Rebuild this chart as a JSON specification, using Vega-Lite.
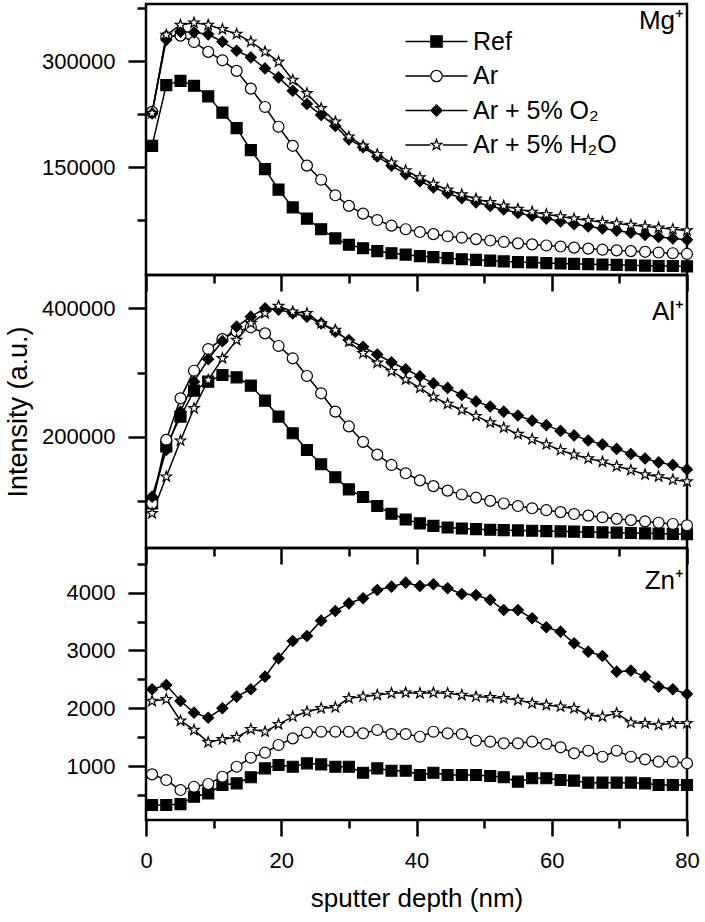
{
  "$schema": "https://vega.github.io/schema/vega-lite/v6.json",
  "background": "white",
  "padding": {"left": 3, "top": 2, "right": 10, "bottom": 5},
  "bounds": "flush",
  "spacing": 0,
  "config": {
    "font": "Liberation Sans",
    "view": {"stroke": "black", "strokeWidth": 2.5},
    "axis": {"domain": false, "grid": false, "tickColor": "black", "tickWidth": 2.5, "labelColor": "black", "titleColor": "black", "labelFontSize": 22, "titleFontSize": 26, "titleFontWeight": "normal", "labelFlush": false},
    "legend": {"padding": 0},
    "title": {"fontSize": 26, "fontWeight": "normal", "color": "black", "anchor": "end", "frame": "group", "baseline": "alphabetic", "dx": -3}
  },
  "resolve": {
    "scale": {"shape": "independent", "fill": "independent", "stroke": "independent", "strokeDash": "independent"},
    "legend": {"shape": "independent", "fill": "independent", "stroke": "independent", "strokeDash": "independent"}
  },
  "datasets": {
    "Mg": [
      {"series":"Ref","depth":0.9,"intensity":180000},{"series":"Ref","depth":3.0,"intensity":266000},{"series":"Ref","depth":5.1,"intensity":272000},{"series":"Ref","depth":7.1,"intensity":265000},{"series":"Ref","depth":9.2,"intensity":250000},{"series":"Ref","depth":11.3,"intensity":227000},{"series":"Ref","depth":13.4,"intensity":205000},{"series":"Ref","depth":15.5,"intensity":174000},{"series":"Ref","depth":17.6,"intensity":147000},{"series":"Ref","depth":19.6,"intensity":118000},{"series":"Ref","depth":21.7,"intensity":93000},{"series":"Ref","depth":23.8,"intensity":77000},{"series":"Ref","depth":25.9,"intensity":62000},{"series":"Ref","depth":28.0,"intensity":49000},{"series":"Ref","depth":30.0,"intensity":40000},{"series":"Ref","depth":32.1,"intensity":35000},{"series":"Ref","depth":34.2,"intensity":31000},{"series":"Ref","depth":36.3,"intensity":28000},{"series":"Ref","depth":38.4,"intensity":26000},{"series":"Ref","depth":40.5,"intensity":24000},{"series":"Ref","depth":42.5,"intensity":22500},{"series":"Ref","depth":44.6,"intensity":21000},{"series":"Ref","depth":46.7,"intensity":19500},{"series":"Ref","depth":48.8,"intensity":18500},{"series":"Ref","depth":50.9,"intensity":17500},{"series":"Ref","depth":52.9,"intensity":16500},{"series":"Ref","depth":55.0,"intensity":15500},{"series":"Ref","depth":57.1,"intensity":15000},{"series":"Ref","depth":59.2,"intensity":14000},{"series":"Ref","depth":61.3,"intensity":13500},{"series":"Ref","depth":63.3,"intensity":13000},{"series":"Ref","depth":65.4,"intensity":12500},{"series":"Ref","depth":67.5,"intensity":12000},{"series":"Ref","depth":69.6,"intensity":11500},{"series":"Ref","depth":71.7,"intensity":11000},{"series":"Ref","depth":73.8,"intensity":10500},{"series":"Ref","depth":75.8,"intensity":10000},{"series":"Ref","depth":77.9,"intensity":10000},{"series":"Ref","depth":80.0,"intensity":9500},
      {"series":"Ar","depth":0.9,"intensity":228000},{"series":"Ar","depth":3.0,"intensity":334000},{"series":"Ar","depth":5.1,"intensity":336000},{"series":"Ar","depth":7.1,"intensity":327000},{"series":"Ar","depth":9.2,"intensity":313000},{"series":"Ar","depth":11.3,"intensity":301000},{"series":"Ar","depth":13.4,"intensity":286000},{"series":"Ar","depth":15.5,"intensity":261000},{"series":"Ar","depth":17.6,"intensity":235000},{"series":"Ar","depth":19.6,"intensity":207000},{"series":"Ar","depth":21.7,"intensity":180000},{"series":"Ar","depth":23.8,"intensity":152000},{"series":"Ar","depth":25.9,"intensity":132000},{"series":"Ar","depth":28.0,"intensity":110000},{"series":"Ar","depth":30.0,"intensity":95000},{"series":"Ar","depth":32.1,"intensity":84000},{"series":"Ar","depth":34.2,"intensity":75000},{"series":"Ar","depth":36.3,"intensity":67000},{"series":"Ar","depth":38.4,"intensity":62000},{"series":"Ar","depth":40.5,"intensity":58000},{"series":"Ar","depth":42.5,"intensity":55000},{"series":"Ar","depth":44.6,"intensity":52000},{"series":"Ar","depth":46.7,"intensity":50000},{"series":"Ar","depth":48.8,"intensity":48000},{"series":"Ar","depth":50.9,"intensity":46000},{"series":"Ar","depth":52.9,"intensity":44000},{"series":"Ar","depth":55.0,"intensity":42000},{"series":"Ar","depth":57.1,"intensity":40500},{"series":"Ar","depth":59.2,"intensity":39000},{"series":"Ar","depth":61.3,"intensity":37500},{"series":"Ar","depth":63.3,"intensity":36000},{"series":"Ar","depth":65.4,"intensity":34500},{"series":"Ar","depth":67.5,"intensity":33000},{"series":"Ar","depth":69.6,"intensity":32000},{"series":"Ar","depth":71.7,"intensity":31000},{"series":"Ar","depth":73.8,"intensity":30000},{"series":"Ar","depth":75.8,"intensity":29000},{"series":"Ar","depth":77.9,"intensity":28000},{"series":"Ar","depth":80.0,"intensity":27000},
      {"series":"Ar + 5% O₂","depth":0.9,"intensity":226000},{"series":"Ar + 5% O₂","depth":3.0,"intensity":330000},{"series":"Ar + 5% O₂","depth":5.1,"intensity":341500},{"series":"Ar + 5% O₂","depth":7.1,"intensity":340600},{"series":"Ar + 5% O₂","depth":9.2,"intensity":337800},{"series":"Ar + 5% O₂","depth":11.3,"intensity":327300},{"series":"Ar + 5% O₂","depth":13.4,"intensity":314600},{"series":"Ar + 5% O₂","depth":15.5,"intensity":305200},{"series":"Ar + 5% O₂","depth":17.6,"intensity":289600},{"series":"Ar + 5% O₂","depth":19.6,"intensity":276900},{"series":"Ar + 5% O₂","depth":21.7,"intensity":258000},{"series":"Ar + 5% O₂","depth":23.8,"intensity":239200},{"series":"Ar + 5% O₂","depth":25.9,"intensity":223600},{"series":"Ar + 5% O₂","depth":28.0,"intensity":208000},{"series":"Ar + 5% O₂","depth":30.0,"intensity":189200},{"series":"Ar + 5% O₂","depth":32.1,"intensity":178000},{"series":"Ar + 5% O₂","depth":34.2,"intensity":165000},{"series":"Ar + 5% O₂","depth":36.3,"intensity":152000},{"series":"Ar + 5% O₂","depth":38.4,"intensity":140000},{"series":"Ar + 5% O₂","depth":40.5,"intensity":130000},{"series":"Ar + 5% O₂","depth":42.5,"intensity":121000},{"series":"Ar + 5% O₂","depth":44.6,"intensity":113000},{"series":"Ar + 5% O₂","depth":46.7,"intensity":106000},{"series":"Ar + 5% O₂","depth":48.8,"intensity":100000},{"series":"Ar + 5% O₂","depth":50.9,"intensity":95000},{"series":"Ar + 5% O₂","depth":52.9,"intensity":90000},{"series":"Ar + 5% O₂","depth":55.0,"intensity":85000},{"series":"Ar + 5% O₂","depth":57.1,"intensity":81000},{"series":"Ar + 5% O₂","depth":59.2,"intensity":77000},{"series":"Ar + 5% O₂","depth":61.3,"intensity":73000},{"series":"Ar + 5% O₂","depth":63.3,"intensity":69000},{"series":"Ar + 5% O₂","depth":65.4,"intensity":66000},{"series":"Ar + 5% O₂","depth":67.5,"intensity":63000},{"series":"Ar + 5% O₂","depth":69.6,"intensity":60000},{"series":"Ar + 5% O₂","depth":71.7,"intensity":57000},{"series":"Ar + 5% O₂","depth":73.8,"intensity":54000},{"series":"Ar + 5% O₂","depth":75.8,"intensity":51000},{"series":"Ar + 5% O₂","depth":77.9,"intensity":49000},{"series":"Ar + 5% O₂","depth":80.0,"intensity":47000},
      {"series":"Ar + 5% H₂O","depth":0.9,"intensity":226000},{"series":"Ar + 5% H₂O","depth":3.0,"intensity":336800},{"series":"Ar + 5% H₂O","depth":5.1,"intensity":351000},{"series":"Ar + 5% H₂O","depth":7.1,"intensity":354200},{"series":"Ar + 5% H₂O","depth":9.2,"intensity":351000},{"series":"Ar + 5% H₂O","depth":11.3,"intensity":344800},{"series":"Ar + 5% H₂O","depth":13.4,"intensity":338200},{"series":"Ar + 5% H₂O","depth":15.5,"intensity":327300},{"series":"Ar + 5% H₂O","depth":17.6,"intensity":313200},{"series":"Ar + 5% H₂O","depth":19.6,"intensity":299000},{"series":"Ar + 5% H₂O","depth":21.7,"intensity":273100},{"series":"Ar + 5% H₂O","depth":23.8,"intensity":254300},{"series":"Ar + 5% H₂O","depth":25.9,"intensity":233000},{"series":"Ar + 5% H₂O","depth":28.0,"intensity":214100},{"series":"Ar + 5% H₂O","depth":30.0,"intensity":192900},{"series":"Ar + 5% H₂O","depth":32.1,"intensity":180000},{"series":"Ar + 5% H₂O","depth":34.2,"intensity":168000},{"series":"Ar + 5% H₂O","depth":36.3,"intensity":156000},{"series":"Ar + 5% H₂O","depth":38.4,"intensity":145000},{"series":"Ar + 5% H₂O","depth":40.5,"intensity":135000},{"series":"Ar + 5% H₂O","depth":42.5,"intensity":126000},{"series":"Ar + 5% H₂O","depth":44.6,"intensity":118000},{"series":"Ar + 5% H₂O","depth":46.7,"intensity":111000},{"series":"Ar + 5% H₂O","depth":48.8,"intensity":105000},{"series":"Ar + 5% H₂O","depth":50.9,"intensity":100000},{"series":"Ar + 5% H₂O","depth":52.9,"intensity":95000},{"series":"Ar + 5% H₂O","depth":55.0,"intensity":90500},{"series":"Ar + 5% H₂O","depth":57.1,"intensity":86500},{"series":"Ar + 5% H₂O","depth":59.2,"intensity":83000},{"series":"Ar + 5% H₂O","depth":61.3,"intensity":80000},{"series":"Ar + 5% H₂O","depth":63.3,"intensity":77000},{"series":"Ar + 5% H₂O","depth":65.4,"intensity":74500},{"series":"Ar + 5% H₂O","depth":67.5,"intensity":72000},{"series":"Ar + 5% H₂O","depth":69.6,"intensity":70000},{"series":"Ar + 5% H₂O","depth":71.7,"intensity":68000},{"series":"Ar + 5% H₂O","depth":73.8,"intensity":66000},{"series":"Ar + 5% H₂O","depth":75.8,"intensity":64000},{"series":"Ar + 5% H₂O","depth":77.9,"intensity":62000},{"series":"Ar + 5% H₂O","depth":80.0,"intensity":60000}
    ],
    "Al": [
      {"series":"Ref","depth":0.9,"intensity":96000},{"series":"Ref","depth":3.0,"intensity":185000},{"series":"Ref","depth":5.1,"intensity":231000},{"series":"Ref","depth":7.1,"intensity":271700},{"series":"Ref","depth":9.2,"intensity":285700},{"series":"Ref","depth":11.3,"intensity":296100},{"series":"Ref","depth":13.4,"intensity":292500},{"series":"Ref","depth":15.5,"intensity":279500},{"series":"Ref","depth":17.6,"intensity":256100},{"series":"Ref","depth":19.6,"intensity":231300},{"series":"Ref","depth":21.7,"intensity":205300},{"series":"Ref","depth":23.8,"intensity":179300},{"series":"Ref","depth":25.9,"intensity":157000},{"series":"Ref","depth":28.0,"intensity":136800},{"series":"Ref","depth":30.0,"intensity":118000},{"series":"Ref","depth":32.1,"intensity":106000},{"series":"Ref","depth":34.2,"intensity":92000},{"series":"Ref","depth":36.3,"intensity":80000},{"series":"Ref","depth":38.4,"intensity":71000},{"series":"Ref","depth":40.5,"intensity":65000},{"series":"Ref","depth":42.5,"intensity":61000},{"series":"Ref","depth":44.6,"intensity":58500},{"series":"Ref","depth":46.7,"intensity":57000},{"series":"Ref","depth":48.8,"intensity":56000},{"series":"Ref","depth":50.9,"intensity":55000},{"series":"Ref","depth":52.9,"intensity":54500},{"series":"Ref","depth":55.0,"intensity":54000},{"series":"Ref","depth":57.1,"intensity":53500},{"series":"Ref","depth":59.2,"intensity":53000},{"series":"Ref","depth":61.3,"intensity":52500},{"series":"Ref","depth":63.3,"intensity":52000},{"series":"Ref","depth":65.4,"intensity":51500},{"series":"Ref","depth":67.5,"intensity":51000},{"series":"Ref","depth":69.6,"intensity":50500},{"series":"Ref","depth":71.7,"intensity":50000},{"series":"Ref","depth":73.8,"intensity":49500},{"series":"Ref","depth":75.8,"intensity":49000},{"series":"Ref","depth":77.9,"intensity":48500},{"series":"Ref","depth":80.0,"intensity":48000},
      {"series":"Ar","depth":0.9,"intensity":96000},{"series":"Ar","depth":3.0,"intensity":195000},{"series":"Ar","depth":5.1,"intensity":259800},{"series":"Ar","depth":7.1,"intensity":302800},{"series":"Ar","depth":9.2,"intensity":336600},{"series":"Ar","depth":11.3,"intensity":352000},{"series":"Ar","depth":13.4,"intensity":364000},{"series":"Ar","depth":15.5,"intensity":370400},{"series":"Ar","depth":17.6,"intensity":361000},{"series":"Ar","depth":19.6,"intensity":341300},{"series":"Ar","depth":21.7,"intensity":322100},{"series":"Ar","depth":23.8,"intensity":294600},{"series":"Ar","depth":25.9,"intensity":267600},{"series":"Ar","depth":28.0,"intensity":239000},{"series":"Ar","depth":30.0,"intensity":216000},{"series":"Ar","depth":32.1,"intensity":192000},{"series":"Ar","depth":34.2,"intensity":172000},{"series":"Ar","depth":36.3,"intensity":156000},{"series":"Ar","depth":38.4,"intensity":143000},{"series":"Ar","depth":40.5,"intensity":132000},{"series":"Ar","depth":42.5,"intensity":123000},{"series":"Ar","depth":44.6,"intensity":116000},{"series":"Ar","depth":46.7,"intensity":110000},{"series":"Ar","depth":48.8,"intensity":105000},{"series":"Ar","depth":50.9,"intensity":100000},{"series":"Ar","depth":52.9,"intensity":96000},{"series":"Ar","depth":55.0,"intensity":92000},{"series":"Ar","depth":57.1,"intensity":88500},{"series":"Ar","depth":59.2,"intensity":85500},{"series":"Ar","depth":61.3,"intensity":82500},{"series":"Ar","depth":63.3,"intensity":79500},{"series":"Ar","depth":65.4,"intensity":77000},{"series":"Ar","depth":67.5,"intensity":74500},{"series":"Ar","depth":69.6,"intensity":72000},{"series":"Ar","depth":71.7,"intensity":70000},{"series":"Ar","depth":73.8,"intensity":68000},{"series":"Ar","depth":75.8,"intensity":66000},{"series":"Ar","depth":77.9,"intensity":64000},{"series":"Ar","depth":80.0,"intensity":62000},
      {"series":"Ar + 5% O₂","depth":0.9,"intensity":106600},{"series":"Ar + 5% O₂","depth":3.0,"intensity":179300},{"series":"Ar + 5% O₂","depth":5.1,"intensity":239000},{"series":"Ar + 5% O₂","depth":7.1,"intensity":285700},{"series":"Ar + 5% O₂","depth":9.2,"intensity":320600},{"series":"Ar + 5% O₂","depth":11.3,"intensity":349000},{"series":"Ar + 5% O₂","depth":13.4,"intensity":371400},{"series":"Ar + 5% O₂","depth":15.5,"intensity":387000},{"series":"Ar + 5% O₂","depth":17.6,"intensity":400000},{"series":"Ar + 5% O₂","depth":19.6,"intensity":398000},{"series":"Ar + 5% O₂","depth":21.7,"intensity":392200},{"series":"Ar + 5% O₂","depth":23.8,"intensity":387000},{"series":"Ar + 5% O₂","depth":25.9,"intensity":376600},{"series":"Ar + 5% O₂","depth":28.0,"intensity":363600},{"series":"Ar + 5% O₂","depth":30.0,"intensity":350600},{"series":"Ar + 5% O₂","depth":32.1,"intensity":340000},{"series":"Ar + 5% O₂","depth":34.2,"intensity":328000},{"series":"Ar + 5% O₂","depth":36.3,"intensity":316000},{"series":"Ar + 5% O₂","depth":38.4,"intensity":305000},{"series":"Ar + 5% O₂","depth":40.5,"intensity":294000},{"series":"Ar + 5% O₂","depth":42.5,"intensity":283000},{"series":"Ar + 5% O₂","depth":44.6,"intensity":276000},{"series":"Ar + 5% O₂","depth":46.7,"intensity":265000},{"series":"Ar + 5% O₂","depth":48.8,"intensity":255000},{"series":"Ar + 5% O₂","depth":50.9,"intensity":247000},{"series":"Ar + 5% O₂","depth":52.9,"intensity":239000},{"series":"Ar + 5% O₂","depth":55.0,"intensity":233000},{"series":"Ar + 5% O₂","depth":57.1,"intensity":225000},{"series":"Ar + 5% O₂","depth":59.2,"intensity":218000},{"series":"Ar + 5% O₂","depth":61.3,"intensity":209000},{"series":"Ar + 5% O₂","depth":63.3,"intensity":202000},{"series":"Ar + 5% O₂","depth":65.4,"intensity":194000},{"series":"Ar + 5% O₂","depth":67.5,"intensity":188000},{"series":"Ar + 5% O₂","depth":69.6,"intensity":181000},{"series":"Ar + 5% O₂","depth":71.7,"intensity":173000},{"series":"Ar + 5% O₂","depth":73.8,"intensity":166000},{"series":"Ar + 5% O₂","depth":75.8,"intensity":160000},{"series":"Ar + 5% O₂","depth":77.9,"intensity":156000},{"series":"Ar + 5% O₂","depth":80.0,"intensity":149000},
      {"series":"Ar + 5% H₂O","depth":0.9,"intensity":80700},{"series":"Ar + 5% H₂O","depth":3.0,"intensity":137700},{"series":"Ar + 5% H₂O","depth":5.1,"intensity":193800},{"series":"Ar + 5% H₂O","depth":7.1,"intensity":244200},{"series":"Ar + 5% H₂O","depth":9.2,"intensity":288300},{"series":"Ar + 5% H₂O","depth":11.3,"intensity":322100},{"series":"Ar + 5% H₂O","depth":13.4,"intensity":350600},{"series":"Ar + 5% H₂O","depth":15.5,"intensity":376600},{"series":"Ar + 5% H₂O","depth":17.6,"intensity":392200},{"series":"Ar + 5% H₂O","depth":19.6,"intensity":403600},{"series":"Ar + 5% H₂O","depth":21.7,"intensity":394700},{"series":"Ar + 5% H₂O","depth":23.8,"intensity":392200},{"series":"Ar + 5% H₂O","depth":25.9,"intensity":376600},{"series":"Ar + 5% H₂O","depth":28.0,"intensity":366200},{"series":"Ar + 5% H₂O","depth":30.0,"intensity":348000},{"series":"Ar + 5% H₂O","depth":32.1,"intensity":330000},{"series":"Ar + 5% H₂O","depth":34.2,"intensity":315000},{"series":"Ar + 5% H₂O","depth":36.3,"intensity":302000},{"series":"Ar + 5% H₂O","depth":38.4,"intensity":289000},{"series":"Ar + 5% H₂O","depth":40.5,"intensity":276000},{"series":"Ar + 5% H₂O","depth":42.5,"intensity":262000},{"series":"Ar + 5% H₂O","depth":44.6,"intensity":251000},{"series":"Ar + 5% H₂O","depth":46.7,"intensity":242000},{"series":"Ar + 5% H₂O","depth":48.8,"intensity":232000},{"series":"Ar + 5% H₂O","depth":50.9,"intensity":222000},{"series":"Ar + 5% H₂O","depth":52.9,"intensity":214000},{"series":"Ar + 5% H₂O","depth":55.0,"intensity":204000},{"series":"Ar + 5% H₂O","depth":57.1,"intensity":196000},{"series":"Ar + 5% H₂O","depth":59.2,"intensity":188000},{"series":"Ar + 5% H₂O","depth":61.3,"intensity":179000},{"series":"Ar + 5% H₂O","depth":63.3,"intensity":172000},{"series":"Ar + 5% H₂O","depth":65.4,"intensity":166000},{"series":"Ar + 5% H₂O","depth":67.5,"intensity":161000},{"series":"Ar + 5% H₂O","depth":69.6,"intensity":154000},{"series":"Ar + 5% H₂O","depth":71.7,"intensity":148000},{"series":"Ar + 5% H₂O","depth":73.8,"intensity":141000},{"series":"Ar + 5% H₂O","depth":75.8,"intensity":138000},{"series":"Ar + 5% H₂O","depth":77.9,"intensity":133000},{"series":"Ar + 5% H₂O","depth":80.0,"intensity":130000}
    ],
    "Zn": [
      {"series":"Ref","depth":0.9,"intensity":325},{"series":"Ref","depth":3.0,"intensity":325},{"series":"Ref","depth":5.1,"intensity":342},{"series":"Ref","depth":7.1,"intensity":469},{"series":"Ref","depth":9.2,"intensity":528},{"series":"Ref","depth":11.3,"intensity":672},{"series":"Ref","depth":13.4,"intensity":701},{"series":"Ref","depth":15.5,"intensity":805},{"series":"Ref","depth":17.6,"intensity":960},{"series":"Ref","depth":19.6,"intensity":1017},{"series":"Ref","depth":21.7,"intensity":988},{"series":"Ref","depth":23.8,"intensity":1047},{"series":"Ref","depth":25.9,"intensity":1029},{"series":"Ref","depth":28.0,"intensity":988},{"series":"Ref","depth":30.0,"intensity":988},{"series":"Ref","depth":32.1,"intensity":884},{"series":"Ref","depth":34.2,"intensity":960},{"series":"Ref","depth":36.3,"intensity":919},{"series":"Ref","depth":38.4,"intensity":919},{"series":"Ref","depth":40.5,"intensity":844},{"series":"Ref","depth":42.5,"intensity":884},{"series":"Ref","depth":44.6,"intensity":844},{"series":"Ref","depth":46.7,"intensity":844},{"series":"Ref","depth":48.8,"intensity":844},{"series":"Ref","depth":50.9,"intensity":827},{"series":"Ref","depth":52.9,"intensity":805},{"series":"Ref","depth":55.0,"intensity":729},{"series":"Ref","depth":57.1,"intensity":788},{"series":"Ref","depth":59.2,"intensity":788},{"series":"Ref","depth":61.3,"intensity":758},{"series":"Ref","depth":63.3,"intensity":747},{"series":"Ref","depth":65.4,"intensity":712},{"series":"Ref","depth":67.5,"intensity":712},{"series":"Ref","depth":69.6,"intensity":712},{"series":"Ref","depth":71.7,"intensity":712},{"series":"Ref","depth":73.8,"intensity":701},{"series":"Ref","depth":75.8,"intensity":672},{"series":"Ref","depth":77.9,"intensity":672},{"series":"Ref","depth":80.0,"intensity":672},
      {"series":"Ar","depth":0.9,"intensity":856},{"series":"Ar","depth":3.0,"intensity":758},{"series":"Ar","depth":5.1,"intensity":585},{"series":"Ar","depth":7.1,"intensity":642},{"series":"Ar","depth":9.2,"intensity":689},{"series":"Ar","depth":11.3,"intensity":815},{"series":"Ar","depth":13.4,"intensity":988},{"series":"Ar","depth":15.5,"intensity":1144},{"series":"Ar","depth":17.6,"intensity":1231},{"series":"Ar","depth":19.6,"intensity":1364},{"series":"Ar","depth":21.7,"intensity":1479},{"series":"Ar","depth":23.8,"intensity":1577},{"series":"Ar","depth":25.9,"intensity":1594},{"series":"Ar","depth":28.0,"intensity":1594},{"series":"Ar","depth":30.0,"intensity":1594},{"series":"Ar","depth":32.1,"intensity":1566},{"series":"Ar","depth":34.2,"intensity":1624},{"series":"Ar","depth":36.3,"intensity":1554},{"series":"Ar","depth":38.4,"intensity":1554},{"series":"Ar","depth":40.5,"intensity":1507},{"series":"Ar","depth":42.5,"intensity":1594},{"series":"Ar","depth":44.6,"intensity":1566},{"series":"Ar","depth":46.7,"intensity":1554},{"series":"Ar","depth":48.8,"intensity":1438},{"series":"Ar","depth":50.9,"intensity":1421},{"series":"Ar","depth":52.9,"intensity":1393},{"series":"Ar","depth":55.0,"intensity":1393},{"series":"Ar","depth":57.1,"intensity":1421},{"series":"Ar","depth":59.2,"intensity":1381},{"series":"Ar","depth":61.3,"intensity":1324},{"series":"Ar","depth":63.3,"intensity":1220},{"series":"Ar","depth":65.4,"intensity":1265},{"series":"Ar","depth":67.5,"intensity":1161},{"series":"Ar","depth":69.6,"intensity":1265},{"series":"Ar","depth":71.7,"intensity":1161},{"series":"Ar","depth":73.8,"intensity":1116},{"series":"Ar","depth":75.8,"intensity":1075},{"series":"Ar","depth":77.9,"intensity":1075},{"series":"Ar","depth":80.0,"intensity":1047},
      {"series":"Ar + 5% O₂","depth":0.9,"intensity":2328},{"series":"Ar + 5% O₂","depth":3.0,"intensity":2402},{"series":"Ar + 5% O₂","depth":5.1,"intensity":2125},{"series":"Ar + 5% O₂","depth":7.1,"intensity":1923},{"series":"Ar + 5% O₂","depth":9.2,"intensity":1836},{"series":"Ar + 5% O₂","depth":11.3,"intensity":1999},{"series":"Ar + 5% O₂","depth":13.4,"intensity":2200},{"series":"Ar + 5% O₂","depth":15.5,"intensity":2328},{"series":"Ar + 5% O₂","depth":17.6,"intensity":2546},{"series":"Ar + 5% O₂","depth":19.6,"intensity":2864},{"series":"Ar + 5% O₂","depth":21.7,"intensity":3164},{"series":"Ar + 5% O₂","depth":23.8,"intensity":3250},{"series":"Ar + 5% O₂","depth":25.9,"intensity":3515},{"series":"Ar + 5% O₂","depth":28.0,"intensity":3683},{"series":"Ar + 5% O₂","depth":30.0,"intensity":3816},{"series":"Ar + 5% O₂","depth":32.1,"intensity":3903},{"series":"Ar + 5% O₂","depth":34.2,"intensity":4047},{"series":"Ar + 5% O₂","depth":36.3,"intensity":4104},{"series":"Ar + 5% O₂","depth":38.4,"intensity":4173},{"series":"Ar + 5% O₂","depth":40.5,"intensity":4116},{"series":"Ar + 5% O₂","depth":42.5,"intensity":4145},{"series":"Ar + 5% O₂","depth":44.6,"intensity":4076},{"series":"Ar + 5% O₂","depth":46.7,"intensity":3977},{"series":"Ar + 5% O₂","depth":48.8,"intensity":3960},{"series":"Ar + 5% O₂","depth":50.9,"intensity":3874},{"series":"Ar + 5% O₂","depth":52.9,"intensity":3700},{"series":"Ar + 5% O₂","depth":55.0,"intensity":3700},{"series":"Ar + 5% O₂","depth":57.1,"intensity":3557},{"series":"Ar + 5% O₂","depth":59.2,"intensity":3401},{"series":"Ar + 5% O₂","depth":61.3,"intensity":3325},{"series":"Ar + 5% O₂","depth":63.3,"intensity":3124},{"series":"Ar + 5% O₂","depth":65.4,"intensity":2979},{"series":"Ar + 5% O₂","depth":67.5,"intensity":2904},{"series":"Ar + 5% O₂","depth":69.6,"intensity":2633},{"series":"Ar + 5% O₂","depth":71.7,"intensity":2650},{"series":"Ar + 5% O₂","depth":73.8,"intensity":2546},{"series":"Ar + 5% O₂","depth":75.8,"intensity":2373},{"series":"Ar + 5% O₂","depth":77.9,"intensity":2328},{"series":"Ar + 5% O₂","depth":80.0,"intensity":2246},
      {"series":"Ar + 5% H₂O","depth":0.9,"intensity":2125},{"series":"Ar + 5% H₂O","depth":3.0,"intensity":2155},{"series":"Ar + 5% H₂O","depth":5.1,"intensity":1784},{"series":"Ar + 5% H₂O","depth":7.1,"intensity":1624},{"series":"Ar + 5% H₂O","depth":9.2,"intensity":1410},{"series":"Ar + 5% H₂O","depth":11.3,"intensity":1462},{"series":"Ar + 5% H₂O","depth":13.4,"intensity":1497},{"series":"Ar + 5% H₂O","depth":15.5,"intensity":1636},{"series":"Ar + 5% H₂O","depth":17.6,"intensity":1594},{"series":"Ar + 5% H₂O","depth":19.6,"intensity":1722},{"series":"Ar + 5% H₂O","depth":21.7,"intensity":1854},{"series":"Ar + 5% H₂O","depth":23.8,"intensity":1940},{"series":"Ar + 5% H₂O","depth":25.9,"intensity":1999},{"series":"Ar + 5% H₂O","depth":28.0,"intensity":2016},{"series":"Ar + 5% H₂O","depth":30.0,"intensity":2172},{"series":"Ar + 5% H₂O","depth":32.1,"intensity":2200},{"series":"Ar + 5% H₂O","depth":34.2,"intensity":2229},{"series":"Ar + 5% H₂O","depth":36.3,"intensity":2259},{"series":"Ar + 5% H₂O","depth":38.4,"intensity":2269},{"series":"Ar + 5% H₂O","depth":40.5,"intensity":2259},{"series":"Ar + 5% H₂O","depth":42.5,"intensity":2269},{"series":"Ar + 5% H₂O","depth":44.6,"intensity":2259},{"series":"Ar + 5% H₂O","depth":46.7,"intensity":2229},{"series":"Ar + 5% H₂O","depth":48.8,"intensity":2200},{"series":"Ar + 5% H₂O","depth":50.9,"intensity":2189},{"series":"Ar + 5% H₂O","depth":52.9,"intensity":2172},{"series":"Ar + 5% H₂O","depth":55.0,"intensity":2143},{"series":"Ar + 5% H₂O","depth":57.1,"intensity":2086},{"series":"Ar + 5% H₂O","depth":59.2,"intensity":2056},{"series":"Ar + 5% H₂O","depth":61.3,"intensity":2027},{"series":"Ar + 5% H₂O","depth":63.3,"intensity":1999},{"series":"Ar + 5% H₂O","depth":65.4,"intensity":1883},{"series":"Ar + 5% H₂O","depth":67.5,"intensity":1854},{"series":"Ar + 5% H₂O","depth":69.6,"intensity":1912},{"series":"Ar + 5% H₂O","depth":71.7,"intensity":1750},{"series":"Ar + 5% H₂O","depth":73.8,"intensity":1739},{"series":"Ar + 5% H₂O","depth":75.8,"intensity":1710},{"series":"Ar + 5% H₂O","depth":77.9,"intensity":1739},{"series":"Ar + 5% H₂O","depth":80.0,"intensity":1739}
    ]
  },
  "vconcat": [
    {
      "width": 541, "height": 271,
      "title": {"text": "Mg⁺", "offset": -30},
      "data": {"name": "Mg"},
      "encoding": {
        "x": {"field": "depth", "type": "quantitative", "scale": {"domain": [0, 80], "nice": false, "zero": false},
              "axis": {"values": [0,10,20,30,40,50,60,70,80], "labels": false, "title": null, "tickSize": 16,
                       "tickDash": {"condition": {"test": "datum.value % 20 === 0", "value": [1, 0]}, "value": [8, 40]}}},
        "y": {"field": "intensity", "type": "quantitative", "scale": {"domain": [-2800, 380700], "nice": false, "zero": false},
              "axis": {"values": [75000,150000,225000,300000,375000], "format": "d", "title": null, "labelPadding": 13, "tickSize": 18,
                       "labelExpr": "datum.value % 150000 === 0 ? datum.label : ''",
                       "tickDash": {"condition": {"test": "datum.value % 150000 === 0", "value": [1, 0]}, "value": [9, 40]}}}
      },
      "layer": [
        {"mark": {"type": "line", "stroke": "black", "strokeWidth": 1.5},
         "encoding": {"strokeDash": {"field": "series", "type": "nominal",
            "scale": {"domain": ["Ref","Ar","Ar + 5% O₂","Ar + 5% H₂O","-"], "range": [[1,0],[1,0],[1,0],[1,0],[1,0]]},
            "legend": {"values": ["Ref","Ar","Ar + 5% O₂","Ar + 5% H₂O"], "orient": "none", "legendX": 278, "legendY": 25, "title": null,
                       "symbolType": "M-5.44,0H-1.1M1.1,0H5.44", "symbolSize": 130, "symbolStrokeColor": "black", "symbolStrokeWidth": 1.5,
                       "labelFontSize": 25, "labelOpacity": 0, "labelOffset": 24, "rowPadding": 8.5}}}},
        {"mark": {"type": "point", "filled": true, "stroke": "black", "strokeWidth": 1.2, "opacity": 1, "size": 120},
         "encoding": {
           "shape": {"field": "series", "type": "nominal", "scale": {"domain": ["Ref","Ar","Ar + 5% O₂","Ar + 5% H₂O"], "range": ["square","circle","diamond","M0,-1L0.235,-0.324L0.951,-0.309L0.38,0.124L0.588,0.809L0,0.4L-0.588,0.809L-0.38,0.124L-0.951,-0.309L-0.235,-0.324Z"]},
                     "legend": {"orient": "none", "legendX": 278, "legendY": 25, "title": null, "labelFontSize": 25, "labelColor": "black", "symbolSize": 130,
                                "labelOffset": 24, "rowPadding": 8.5, "symbolStrokeColor": "black", "symbolStrokeWidth": 1.2}},
           "fill": {"field": "series", "type": "nominal", "scale": {"domain": ["Ref","Ar","Ar + 5% O₂","Ar + 5% H₂O"], "range": ["black","white","black","white"]},
                     "legend": {"orient": "none", "legendX": 278, "legendY": 25, "title": null, "labelFontSize": 25, "labelColor": "black", "symbolSize": 130,
                                "labelOffset": 24, "rowPadding": 8.5, "symbolStrokeColor": "black", "symbolStrokeWidth": 1.2}},
           "stroke": {"field": "series", "type": "nominal", "scale": {"domain": ["Ref","Ar","Ar + 5% O₂","Ar + 5% H₂O"], "range": ["black","black","black","black"]},
                     "legend": {"orient": "none", "legendX": 278, "legendY": 25, "title": null, "labelFontSize": 25, "labelColor": "black", "symbolSize": 130,
                                "labelOffset": 24, "rowPadding": 8.5, "symbolStrokeColor": "black", "symbolStrokeWidth": 1.2}}
         }}
      ]
    },
    {
      "width": 541, "height": 273,
      "title": {"text": "Al⁺", "offset": -50},
      "data": {"name": "Al"},
      "encoding": {
        "x": {"field": "depth", "type": "quantitative", "scale": {"domain": [0, 80], "nice": false, "zero": false},
              "axis": {"values": [0,10,20,30,40,50,60,70,80], "labels": false, "title": null, "tickSize": 16,
                       "tickDash": {"condition": {"test": "datum.value % 20 === 0", "value": [1, 0]}, "value": [8, 40]}}},
        "y": {"field": "intensity", "type": "quantitative", "scale": {"domain": [26600, 451900], "nice": false, "zero": false},
              "axis": {"values": [100000,200000,300000,400000], "format": "d", "title": "Intensity (a.u.)", "titlePadding": 9, "titleFontSize": 27, "labelPadding": 13, "tickSize": 18,
                       "labelExpr": "datum.value % 200000 === 0 ? datum.label : ''",
                       "tickDash": {"condition": {"test": "datum.value % 200000 === 0", "value": [1, 0]}, "value": [9, 40]}}}
      },
      "layer": [
        {"mark": {"type": "line", "stroke": "black", "strokeWidth": 1.5},
         "encoding": {"detail": {"field": "series", "type": "nominal"}}},
        {"mark": {"type": "point", "filled": true, "stroke": "black", "strokeWidth": 1.2, "opacity": 1, "size": 120},
         "encoding": {
           "shape": {"field": "series", "type": "nominal", "scale": {"domain": ["Ref","Ar","Ar + 5% O₂","Ar + 5% H₂O"], "range": ["square","circle","diamond","M0,-1L0.235,-0.324L0.951,-0.309L0.38,0.124L0.588,0.809L0,0.4L-0.588,0.809L-0.38,0.124L-0.951,-0.309L-0.235,-0.324Z"]}, "legend": null},
           "fill": {"field": "series", "type": "nominal", "scale": {"domain": ["Ref","Ar","Ar + 5% O₂","Ar + 5% H₂O"], "range": ["black","white","black","white"]}, "legend": null}
         }}
      ]
    },
    {
      "width": 541, "height": 272,
      "title": {"text": "Zn⁺", "offset": -46},
      "data": {"name": "Zn"},
      "encoding": {
        "x": {"field": "depth", "type": "quantitative", "scale": {"domain": [0, 80], "nice": false, "zero": false},
              "axis": {"values": [0,10,20,30,40,50,60,70,80], "title": "sputter depth (nm)", "labelPadding": 14, "titlePadding": 14, "tickSize": 16,
                       "labelExpr": "datum.value % 20 === 0 ? datum.label : ''",
                       "tickDash": {"condition": {"test": "datum.value % 20 === 0", "value": [1, 0]}, "value": [8, 40]}}},
        "y": {"field": "intensity", "type": "quantitative", "scale": {"domain": [66, 4773], "nice": false, "zero": false},
              "axis": {"values": [500,1000,1500,2000,2500,3000,3500,4000,4500], "format": "d", "title": null, "labelPadding": 13, "tickSize": 18,
                       "labelExpr": "datum.value % 1000 === 0 ? datum.label : ''",
                       "tickDash": {"condition": {"test": "datum.value % 1000 === 0", "value": [1, 0]}, "value": [9, 40]}}}
      },
      "layer": [
        {"mark": {"type": "line", "stroke": "black", "strokeWidth": 1.5},
         "encoding": {"detail": {"field": "series", "type": "nominal"}}},
        {"mark": {"type": "point", "filled": true, "stroke": "black", "strokeWidth": 1.2, "opacity": 1, "size": 120},
         "encoding": {
           "shape": {"field": "series", "type": "nominal", "scale": {"domain": ["Ref","Ar","Ar + 5% O₂","Ar + 5% H₂O"], "range": ["square","circle","diamond","M0,-1L0.235,-0.324L0.951,-0.309L0.38,0.124L0.588,0.809L0,0.4L-0.588,0.809L-0.38,0.124L-0.951,-0.309L-0.235,-0.324Z"]}, "legend": null},
           "fill": {"field": "series", "type": "nominal", "scale": {"domain": ["Ref","Ar","Ar + 5% O₂","Ar + 5% H₂O"], "range": ["black","white","black","white"]}, "legend": null}
         }}
      ]
    }
  ]
}
